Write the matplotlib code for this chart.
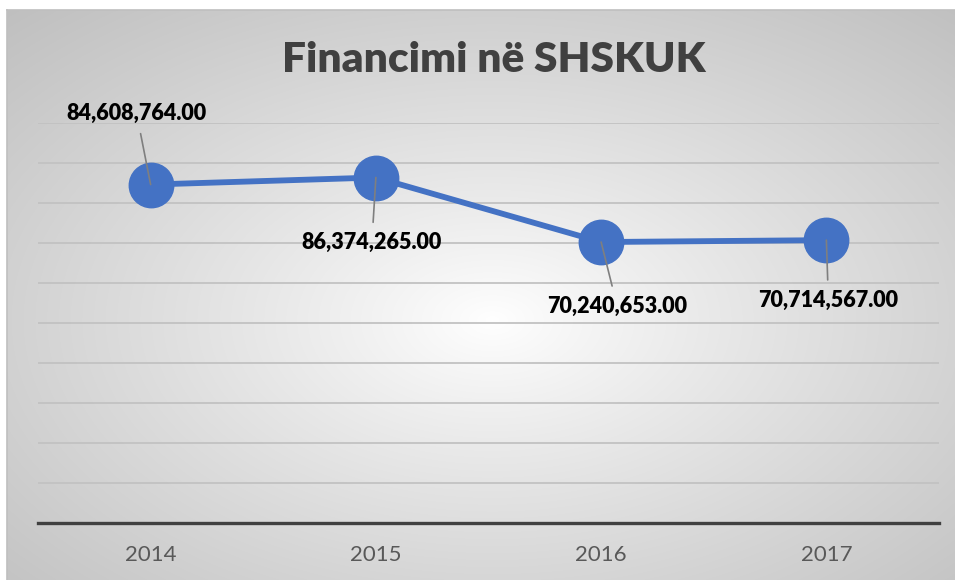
import numpy as np
import matplotlib
matplotlib.use("Agg")
import matplotlib.pyplot as plt
from matplotlib.lines import Line2D

years = ["2014", "2015", "2016", "2017"]
values = [84608764.00, 86374265.00, 70240653.00, 70714567.00]
label_texts = ["84,608,764.00", "86,374,265.00", "70,240,653.00", "70,714,567.00"]
label_offsets_px = [(-14, 71), (-4, -65), (16, -64), (2, -60)]
title = "Financimi në SHSKUK"

W, H = 955, 580
fig = plt.figure(figsize=(W / 100, H / 100), dpi=100)
fig.patch.set_facecolor("white")

# background frame with radial gradient
fx0, fy0 = 7, 10
bg = fig.add_axes([fx0 / W, 0, (W - fx0) / W, (H - fy0) / H], zorder=0)
nx, ny = W - fx0, H - fy0
xx, yy = np.meshgrid(np.arange(nx), np.arange(ny))
cx, cy = 485, 310
r = np.hypot((xx - cx) / nx, (yy - cy) / ny)
rmax = np.hypot(max(cx, nx - cx) / nx, max(cy, ny - cy) / ny)
t = np.clip(r / rmax, 0, 1)
shade = 1.0 - 0.25 * t ** 0.9
img = np.dstack([shade, shade, shade])
bg.imshow(img, aspect="auto", extent=(0, nx, ny, 0), interpolation="bilinear")
bg.set_xlim(0, nx)
bg.set_ylim(ny, 0)
bg.axis("off")
fig.add_artist(Line2D([fx0 / W, fx0 / W], [0, (H - fy0) / H], color="#bfbfbf", lw=1.2))
fig.add_artist(Line2D([fx0 / W, 1], [(H - fy0) / H, (H - fy0) / H], color="#bfbfbf", lw=1.2))

# main axes
ax_l, ax_r, ax_t, ax_b = 38, 939, 123, 523
ax = fig.add_axes([ax_l / W, (H - ax_b) / H, (ax_r - ax_l) / W, (ax_b - ax_t) / H], zorder=2)
ax.patch.set_alpha(0)
ax.set_xlim(-0.5, len(years) - 0.5)
ax.set_ylim(0, 100_000_000)
ax.set_yticks(np.arange(0, 100_000_001, 10_000_000))
ax.yaxis.grid(True, color="#c2c2c2", lw=1.3)
ax.set_axisbelow(True)
for s in ["top", "right", "left"]:
    ax.spines[s].set_visible(False)
ax.spines["bottom"].set_color("#404040")
ax.spines["bottom"].set_linewidth(2.4)
ax.spines["bottom"].set_zorder(3)
ax.tick_params(axis="y", left=False, labelleft=False)
ax.tick_params(axis="x", length=0, pad=16, labelsize=16, labelcolor="#595959")
x = np.arange(len(years))
ax.set_xticks(x)
ax.set_xticklabels(years, fontfamily="Lato")

ax.plot(x, values, color="#4472c4", lw=4.2, marker="o", markersize=32,
        markerfacecolor="#4472c4", markeredgecolor="#4472c4", zorder=4, clip_on=False)

for xi, v, txt, (dx, dy) in zip(x, values, label_texts, label_offsets_px):
    ax.annotate(txt, xy=(xi, v), xytext=(dx, dy), textcoords="offset pixels",
                ha="center", va="center", fontsize=15.5, fontweight="heavy",
                fontfamily="Lato", color="black", zorder=6,
                arrowprops=dict(arrowstyle="-", color="#7f7f7f", lw=1.2,
                                shrinkA=5, shrinkB=0))

fig.text(494 / W, 1 - 60 / H, title, ha="center", va="center", fontsize=30.5,
         fontweight="heavy", fontfamily="Lato", color="#404040", zorder=5)

fig.savefig("out.png", dpi=100)
